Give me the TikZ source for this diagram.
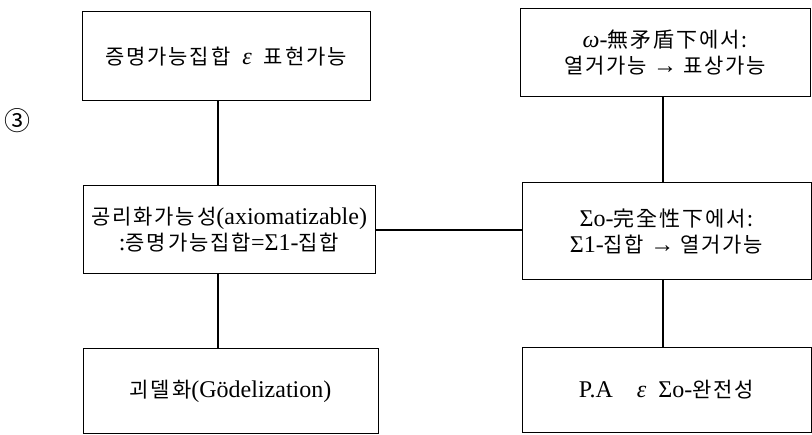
\documentclass[tikz,border=0pt]{standalone}
\usepackage{fontspec}
\setmainfont{Liberation Serif}
\newfontfamily\krfont[LetterSpace=9]{Noto Sans CJK KR}
\newfontfamily\circfont{Noto Sans CJK KR}
\newcommand\kor[1]{{\krfont\fontsize{21}{25}\selectfont #1}}
\newcommand\bigsig{{\fontsize{24}{25}\selectfont Σ}}
\begin{document}
\begin{tikzpicture}[x=1pt,y=-1pt,
  box/.style={draw,line width=1pt,inner sep=0pt,align=center,font=\fontsize{24}{25}\selectfont},
  conn/.style={line width=1.8pt}]
\useasboundingbox (0,0) rectangle (812,435);
% boxes
\node[box,minimum width=288pt,minimum height=89pt] (A) at (226,56.5)
  {\kor{증명가능집합}\ \ \textit{ε}\ \ \kor{표현가능}};
\node[box,minimum width=292pt,minimum height=88pt] (B) at (229,230)
  {\kor{공리화가능성}(axiomatizable)\\[1pt] :\kor{증명가능집합}=\bigsig1-\kor{집합}};
\node[box,minimum width=295pt,minimum height=85pt] (C) at (230.5,391)
  {\kor{괴델화}(Gödelization)};
\node[box,minimum width=290pt,minimum height=88pt] (D) at (665,53)
  {\textit{ω}-\kor{無矛盾下에서:}\\[1pt] \kor{열거가능} → \kor{표상가능}};
\node[box,minimum width=289pt,minimum height=97pt] (E) at (666.5,231.5)
  {\bigsig o-\kor{完全性下에서:}\\[1pt] \bigsig1-\kor{집합} → \kor{열거가능}};
\node[box,minimum width=289pt,minimum height=85pt] (F) at (666.5,390)
  {P.A\quad \textit{ε}\ \ \bigsig o-\kor{완전성}};
% circled number
\node[font=\circfont\fontsize{26}{26}\selectfont,inner sep=0pt] (n3) at (18,121) {③};
% connector columns
\coordinate (colL) at (218,0);
\coordinate (colR) at (663,0);
\draw[conn] (A.south -| colL) -- (B.north -| colL);
\draw[conn] (B.south -| colL) -- (C.north -| colL);
\draw[conn] (B.east) -- (E.west |- B.east);
\draw[conn] (D.south -| colR) -- (E.north -| colR);
\draw[conn] (E.south -| colR) -- (F.north -| colR);
\end{tikzpicture}
\end{document}
